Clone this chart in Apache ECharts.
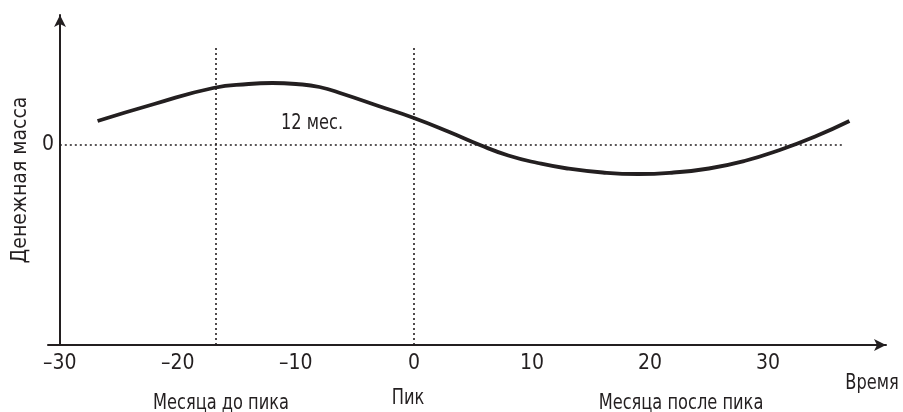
<!DOCTYPE html>
<html>
<head>
<meta charset="utf-8">
<script src="https://cdn.jsdelivr.net/npm/echarts@6/dist/echarts.min.js"></script>
<style>
  html, body { margin: 0; padding: 0; background: #fff; }
  #chart { width: 903px; height: 412px; }
</style>
</head>
<body>
<div id="chart"></div>
<script>
  // x: months relative to the peak, y: money supply (arbitrary units)
  var curveX = [-26.8, -22, -17, -14, -12, -10, -8, -6, -3, 0, 3, 5.6, 8, 10.5, 13, 16, 19, 22, 25, 28, 31, 34, 36.9];
  var curveY = [2.4, 4.1, 5.7, 6.1, 6.2, 6.1, 5.8, 5.1, 3.9, 2.7, 1.3, 0, -1.05, -1.8, -2.35, -2.75, -2.9, -2.75, -2.35, -1.6, -0.5, 0.85, 2.4];
  var xTicks = [-30, -20, -10, 0, 10, 20, 30];
  var yTicks = [0];
  // dotted guide lines
  var zeroLine = [[-30, 0], [36.4, 0]];
  var markerX = [-16.8, 0];
  var markerTop = 9.8;

  var ink = '#231f20';
  var font = "'DejaVu Sans Condensed', 'Liberation Sans Narrow', sans-serif";

  var curve = curveX.map(function (x, i) { return [x, curveY[i]]; });

  var guideData = [[{ coord: zeroLine[0] }, { coord: zeroLine[1] }]];
  markerX.forEach(function (x) {
    guideData.push([{ coord: [x, -20] }, { coord: [x, markerTop] }]);
  });

  // подписи под осью
  function caption(text, x, y) {
    return {
      type: 'text', x: x, y: y, scaleX: 0.82,
      style: { text: text, fill: ink, font: '22px ' + font, textAlign: 'center', textVerticalAlign: 'middle' }
    };
  }

  var chart = echarts.init(document.getElementById('chart'));
  chart.setOption({
    animation: false,
    grid: { left: 48, right: 17, top: 15, bottom: 67 },
    xAxis: {
      type: 'value',
      min: -31,
      max: 40,
      axisLine: { onZero: false, symbol: ['none', 'arrow'], symbolSize: [9, 12], lineStyle: { color: ink, width: 2 } },
      axisTick: { show: false },
      splitLine: { show: false },
      axisLabel: {
        customValues: xTicks,
        color: ink, fontSize: 21, fontFamily: font, margin: 8,
        formatter: function (v) { return v < 0 ? '–' + Math.abs(v) : String(v); }
      }
    },
    yAxis: {
      type: 'value',
      min: -20,
      max: 13,
      offset: -12,
      name: 'Денежная масса',
      nameLocation: 'middle',
      nameRotate: 90,
      nameGap: 18,
      nameTextStyle: { color: ink, fontSize: 21, fontFamily: font },
      axisLine: { onZero: false, symbol: ['none', 'arrow'], symbolSize: [9, 12], lineStyle: { color: ink, width: 2 } },
      axisTick: { show: false },
      splitLine: { show: false },
      axisLabel: { customValues: yTicks, color: ink, fontSize: 21, fontFamily: font, margin: 6 }
    },
    series: [{
      type: 'line',
      data: curve,
      smooth: true,
      symbol: 'none',
      lineStyle: { color: ink, width: 3.8 },
      z: 5,
      markLine: {
        silent: true,
        symbol: 'none',
        label: { show: false },
        lineStyle: { color: ink, type: [2, 3], width: 1.6 },
        data: guideData
      }
    }],
    graphic: [
      caption('12 мес.', 312, 123),
      caption('Месяца до пика', 221, 403),
      caption('Пик', 408, 398),
      caption('Месяца после пика', 681, 403),
      caption('Время', 872, 383)
    ]
  });
</script>
</body>
</html>
